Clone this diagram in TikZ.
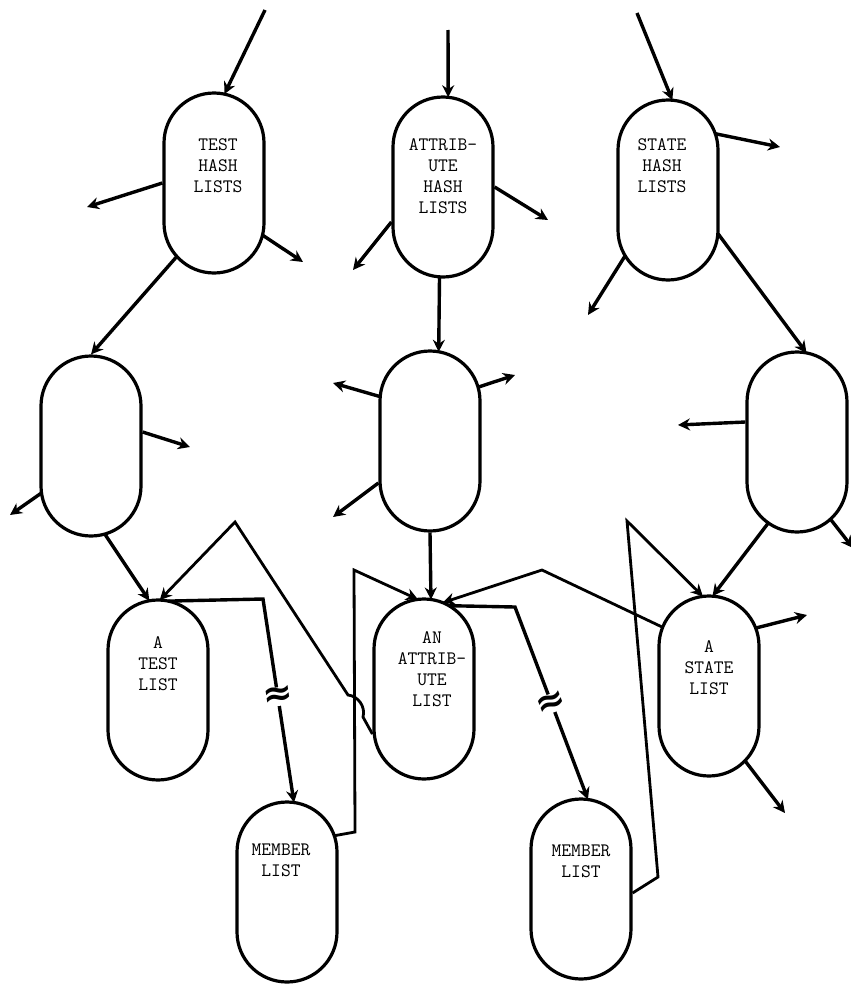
\documentclass[tikz,border=0pt]{standalone}
\usepackage{fontspec}
\newfontfamily\symfont{DejaVu Sans}
\usetikzlibrary{arrows.meta,calc,positioning}
\begin{document}
\begin{tikzpicture}[x=1pt,y=1pt,
  list/.style={draw, line width=3.2pt, rounded corners=50pt, minimum width=100pt, minimum height=180pt, inner sep=0pt},
  lbl/.style={font=\ttfamily\fontsize{19}{21}\selectfont, align=center, inner sep=0pt},
  arr/.style={line width=3.4pt, -{Stealth[length=12pt,width=12pt]}},
  wire/.style={line width=2.8pt},
  brk/.style={fill=white, inner sep=0pt, font=\symfont\bfseries\fontsize{36}{36}\selectfont}]
\useasboundingbox (0,0) rectangle (851,-985);

\node[list] (th) at (214,-183) {};
\node[list] (ah) at (443,-187) {};
\node[list] (sh) at (668,-190) {};
\node[list] (t2) at (91,-446) {};
\node[list] (a2) at (430,-441) {};
\node[list] (s2) at (797,-442) {};
\node[list] (tl) at (158,-690) {};
\node[list] (al) at (424,-689) {};
\node[list] (sl) at (709,-686) {};
\node[list] (m1) at (287,-892) {};
\node[list] (m2) at (581,-889) {};

\node[lbl, below=47pt of th.north, xshift=4pt] (th-t) {TEST\\HASH\\LISTS};
\node[lbl, below=43pt of ah.north] (ah-t) {ATTRIB-\\UTE\\HASH\\LISTS};
\node[lbl, below=40pt of sh.north, xshift=-6pt] (sh-t) {STATE\\HASH\\LISTS};
\node[lbl, below=38pt of tl.north] (tl-t) {A\\TEST\\LIST};
\node[lbl, below=34pt of al.north, xshift=8pt] (al-t) {AN\\ATTRIB-\\UTE\\LIST};
\node[lbl, below=46pt of sl.north] (sl-t) {A\\STATE\\LIST};
\node[lbl, below=43pt of m1.north, xshift=-6pt] (m1-t) {MEMBER\\LIST};
\node[lbl, below=47pt of m2.north] (m2-t) {MEMBER\\LIST};

\coordinate (th-in) at (265,-10);
\coordinate (th-l) at (87,-207);
\coordinate (th-r) at (303,-262);
\coordinate (ah-in) at (448,-30);
\coordinate (ah-l) at (353,-270);
\coordinate (ah-r) at (548,-220);
\coordinate (sh-in) at (637,-13);
\coordinate (sh-r) at (780,-147);
\coordinate (sh-l) at (588,-315);
\coordinate (t2-r) at (190,-447);
\coordinate (t2-l) at (10,-515);
\coordinate (a2-lu) at (333,-383);
\coordinate (a2-ru) at (515,-375);
\coordinate (a2-ld) at (333,-517);
\coordinate (s2-l) at (678,-425);
\coordinate (s2-r) at (853,-548);
\coordinate (sl-r) at (807,-615);
\coordinate (sl-d) at (785,-813);
\coordinate (b1) at (263,-599);
\coordinate (b2) at (515,-607);
\coordinate (b3) at (355,-832);
\coordinate (b4) at (354,-570);
\coordinate (b5) at (542,-570);
\coordinate (b6) at (235,-522);
\coordinate (hA) at (348,-695);
\coordinate (hB) at (363,-717);
\coordinate (b7) at (658,-877);
\coordinate (b8) at (627,-521);

\draw[arr] (th-in) -- ($(th)+(0,40)+(78:50)$);
\draw[arr] (th.west) -- (th-l);
\draw[arr] ($(th)+(0,-40)+(-14:50)$) -- (th-r);
\draw[arr] ($(th)+(0,-40)+(222:50)$) -- (t2.north);

\draw[arr] (ah-in) -- ($(ah)+(0,40)+(84:50)$);
\draw[arr] ([yshift=-35pt]ah.west) -- (ah-l);
\draw[arr] (ah.east) -- (ah-r);
\draw[arr] ($(ah)+(0,-40)+(-94:50)$) -- ($(a2)+(0,40)+(80:50)$);

\draw[arr] (sh-in) -- ($(sh)+(0,40)+(85:50)$);
\draw[arr] ($(sh)+(0,40)+(19:50)$) -- (sh-r);
\draw[arr] ($(sh)+(0,-40)+(211:50)$) -- (sh-l);
\draw[arr] ($(sh)+(0,-40)+(-4:50)$) -- ($(s2)+(0,40)+(79:50)$);

\draw[arr] ([yshift=14pt]t2.east) -- (t2-r);
\draw[arr] ($(t2)+(0,-40)+(188:50)$) -- (t2-l);
\draw[arr] ($(t2)+(0,-40)+(-74:50)$) -- ($(tl)+(0,40)+(100:50)$);

\draw[arr] ($(a2)+(0,40)+(175:50)$) -- (a2-lu);
\draw[arr] ($(a2)+(0,40)+(16:50)$) -- (a2-ru);
\draw[arr] ([yshift=-42pt]a2.west) -- (a2-ld);
\draw[arr] (a2.south) -- ($(al)+(0,40)+(82:50)$);

\draw[arr] ([yshift=20pt]s2.west) -- (s2-l);
\draw[arr] ($(s2)+(0,-40)+(-48:50)$) -- (s2-r);
\draw[arr] ($(s2)+(0,-40)+(235:50)$) -- ($(sl)+(0,40)+(86:50)$);

\draw[arr] ($(sl)+(0,40)+(21:50)$) -- (sl-r);
\draw[arr] ($(sl)+(0,-40)+(-44:50)$) -- (sl-d);

\draw[arr] ($(tl)+(0,40)+(78:50)$) -- (b1) -- node[brk, pos=0.48, rotate=8] (z1) {≈} ($(m1)+(0,40)+(82:50)$);
\draw[arr] ($(al)+(0,40)+(60:50)$) -- (b2) -- node[brk, pos=0.5, rotate=21] (z2) {≈} ($(m2)+(0,40)+(82:50)$);

\draw[arr, wire] ($(m1)+(0,40)+(19:50)$) -- (b3) -- (b4) -- ($(al)+(0,40)+(97:50)$);
\draw[arr, wire] ($(sl)+(0,40)+(158:50)$) -- (b5) -- ($(al)+(0,40)+(68:50)$);
\draw[arr, wire] ([yshift=-45pt]al.west) -- (hB) to[bend right=50] (hA) -- (b6) -- ($(tl)+(0,40)+(88:50)$);
\draw[arr, wire] ([yshift=-4pt]m2.east) -- (b7) -- (b8) -- ($(sl)+(0,40)+(97:50)$);
\end{tikzpicture}
\end{document}
